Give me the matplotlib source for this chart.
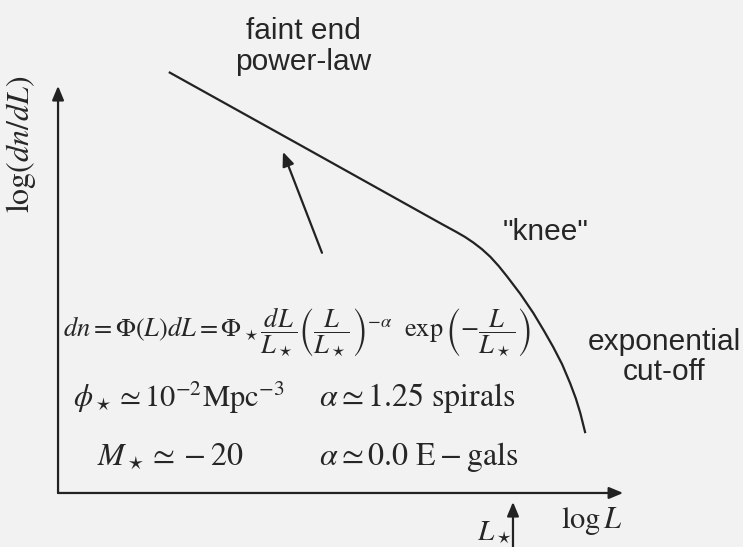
import matplotlib.pyplot as plt

plt.rcParams['mathtext.fontset'] = 'stix'
plt.rcParams['font.family'] = 'Liberation Sans'

# schematic luminosity function, arbitrary log units
log_L = [1.96, 4.28, 6.76, 7.05, 7.20, 7.35, 7.50, 7.65, 7.80, 7.95, 8.18, 8.41, 8.60, 8.76, 8.92, 9.06, 9.16, 9.24, 9.33]
log_phi = [10.34, 8.55, 6.63, 6.41, 6.29, 6.15, 5.99, 5.80, 5.57, 5.31, 4.89, 4.42, 3.98, 3.59, 3.16, 2.70, 2.33, 1.97, 1.47]

ink = '#222222'
bg = '#f2f2f2'

fig = plt.figure(figsize=(7.43, 5.47), dpi=100, facecolor=bg)
ax = fig.add_axes([0, 0, 1, 1])
ax.set_facecolor(bg)
ax.set_xlim(-1.027, 12.12)
ax.set_ylim(-1.327, 12.11)
ax.axis('off')

ax.plot(log_L, log_phi, color=ink, lw=1.6, solid_capstyle='butt', solid_joinstyle='round')

head = '-|>,head_length=0.6,head_width=0.25'
arrow_kw = dict(arrowstyle=head, color=ink, lw=1.6, shrinkA=0, shrinkB=0, mutation_scale=14)

# axes with arrow heads
ax.annotate('', xy=(0, 10.0), xytext=(0, 0), arrowprops=arrow_kw)
ax.annotate('', xy=(10.0, 0), xytext=(0, 0), arrowprops=arrow_kw)
# pointer to the power-law part
ax.annotate('', xy=(3.98, 8.38), xytext=(4.67, 5.90), arrowprops=arrow_kw)
# L_star marker
ax.annotate('', xy=(8.05, -0.22), xytext=(8.05, -1.5), arrowprops=arrow_kw)

txt = '#262626'
ax.text(4.34, 10.96, 'faint end\npower-law', ha='center', va='center',
        fontsize=21.5, color=txt, linespacing=1.15)
ax.text(8.62, 6.41, '"knee"', ha='center', va='center', fontsize=21.5, color=txt)
ax.text(10.73, 3.34, 'exponential\ncut-off', ha='center', va='center',
        fontsize=21.5, color=txt, linespacing=1.1)

ax.text(9.45, -0.69, r'$\log L$', ha='center', va='center', fontsize=22, color=txt)
ax.text(7.72, -0.95, r'$L_\star$', ha='center', va='center', fontsize=21, color=txt)
ax.text(-0.65, 8.57, r'$\log(dn/dL)$', ha='center', va='center', rotation=90,
        fontsize=23, color=txt)

ax.text(0.09, 3.96,
        r'$dn = \Phi(L)dL = \Phi_\star\dfrac{dL}{L_\star}\left(\dfrac{L}{L_\star}\right)^{-\alpha}\ \ \exp\left(-\dfrac{L}{L_\star}\right)$',
        ha='left', va='center', fontsize=19, color=txt)
ax.text(0.27, 2.33, r'$\phi_\star \simeq 10^{-2}\mathrm{Mpc}^{-3}$',
        ha='left', va='center', fontsize=22, color=txt)
ax.text(4.62, 2.33, r'$\alpha \simeq 1.25\ \mathrm{spirals}$',
        ha='left', va='center', fontsize=23, color=txt)
ax.text(0.69, 0.88, r'$M_\star \simeq -20$',
        ha='left', va='center', fontsize=23, color=txt)
ax.text(4.62, 0.88, r'$\alpha \simeq 0.0\ \mathrm{E} - \mathrm{gals}$',
        ha='left', va='center', fontsize=23, color=txt)

fig.savefig('out.png', dpi=100, facecolor=bg)
